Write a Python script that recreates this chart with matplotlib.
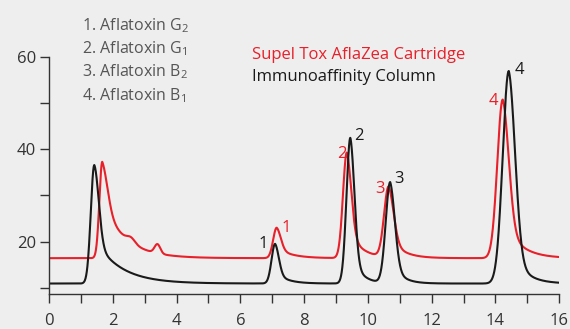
import numpy as np
import matplotlib
matplotlib.use("Agg")
import matplotlib.pyplot as plt

plt.rcParams['font.family'] = ['Open Sans', 'DejaVu Sans']

# Peak tables (retention time in min, apex signal, left/right widths, tail fraction, tail constant)
black_rt     = [1.42, 7.09, 9.45, 10.70, 14.42]
black_height = [36.6, 19.5, 42.5, 32.8, 57.0]
black_wl     = [0.11, 0.11, 0.12, 0.14, 0.19]
black_wr     = [0.14, 0.12, 0.13, 0.15, 0.20]
black_tailf  = [0.38, 0.30, 0.22, 0.25, 0.20]
black_tau    = [0.80, 0.35, 0.30, 0.30, 0.40]
black_base   = 10.9

red_rt     = [1.67, 7.14, 9.34, 10.65, 14.23]
red_height = [37.3, 23.0, 39.3, 31.7, 50.8]
red_wl     = [0.09, 0.11, 0.12, 0.14, 0.17]
red_wr     = [0.17, 0.13, 0.14, 0.16, 0.19]
red_tailf  = [0.60, 0.35, 0.30, 0.30, 0.25]
red_tau    = [0.70, 0.45, 0.40, 0.40, 0.50]
red_base   = 16.4

# small matrix bumps on the red trace (amplitude above the tail)
red_minor_rt  = [2.57, 3.40]
red_minor_amp = [1.1, 2.0]
red_minor_w   = [0.13, 0.09]

peak_ids = ["1", "2", "3", "4"]
compounds = ["1. Aflatoxin G$_\\mathregular{2}$", "2. Aflatoxin G$_\\mathregular{1}$",
             "3. Aflatoxin B$_\\mathregular{2}$", "4. Aflatoxin B$_\\mathregular{1}$"]

RED = "#e8202a"
BLACK = "#1a1a1a"
BG = "#eeeeee"


def peak(t, t0, wl, wr, tailf, tau):
    dt = t - t0
    left = np.exp(-0.5 * (dt / wl) ** 2)
    right = (1 - tailf) * np.exp(-0.5 * (dt / wr) ** 2) + tailf * np.exp(-np.clip(dt, 0, None) / tau)
    return np.where(dt < 0, left, right)


def trace(t, base, rt, h, wl, wr, tf, tau):
    y = np.full_like(t, base)
    for i in range(len(rt)):
        y += (h[i] - base) * peak(t, rt[i], wl[i], wr[i], tf[i], tau[i])
    return y


t = np.linspace(0, 16, 4000)
y_black = trace(t, black_base, black_rt, black_height, black_wl, black_wr, black_tailf, black_tau)
y_red = trace(t, red_base, red_rt, red_height, red_wl, red_wr, red_tailf, red_tau)
for i in range(len(red_minor_rt)):
    y_red += red_minor_amp[i] * np.exp(-0.5 * ((t - red_minor_rt[i]) / red_minor_w[i]) ** 2)

fig = plt.figure(figsize=(5.7, 3.29), dpi=100, facecolor=BG)
ax = fig.add_axes([0.086, 0.106, 0.895, 0.894])
ax.set_facecolor(BG)

ax.plot(t, y_red, color=RED, lw=1.5)
ax.plot(t, y_black, color=BLACK, lw=1.5)

ax.set_xlim(0, 16)
ax.set_ylim(8.6, 72.4)
for s in ["top", "right"]:
    ax.spines[s].set_visible(False)
ax.spines["left"].set_bounds(8.6, 60)
ax.spines["bottom"].set_bounds(0, 16)
for s in ["left", "bottom"]:
    ax.spines[s].set_color("#333333")
    ax.spines[s].set_linewidth(1.0)

ax.set_xticks(range(0, 17, 2))
ax.set_xticks(range(0, 17), minor=True)
ax.set_yticks([20, 40, 60])
ax.set_yticks([10, 30, 50], minor=True)
ax.tick_params(which="both", direction="out", length=6.5, width=1.0, color="#333333",
               labelsize=12, labelcolor="#333333")
ax.tick_params(axis="x", pad=7)
ax.tick_params(axis="y", pad=3)

# peak numbers
black_lbl_x = [6.71, 9.73, 10.98, 14.74]
black_lbl_y = [19.4, 42.9, 33.5, 57.3]
red_lbl_x = [7.44, 9.18, 10.38, 13.94]
red_lbl_y = [23.0, 38.9, 31.4, 50.6]
for i, p in enumerate(peak_ids):
    ax.text(black_lbl_x[i], black_lbl_y[i], p, color=BLACK, fontsize=12, ha="center", va="center")
    ax.text(red_lbl_x[i], red_lbl_y[i], p, color=RED, fontsize=12, ha="center", va="center")

for i, c in enumerate(compounds):
    fig.text(82 / 570, 1 - (25.5 + 23.3 * i) / 329, c, color="#555555", fontsize=11.5, va="center")

fig.text(252 / 570, 1 - 55 / 329, "Supel Tox AflaZea Cartridge", color=RED, fontsize=12, va="center")
fig.text(252 / 570, 1 - 77 / 329, "Immunoaffinity Column", color=BLACK, fontsize=12, va="center")

fig.savefig("out.png", dpi=100, facecolor=BG)
